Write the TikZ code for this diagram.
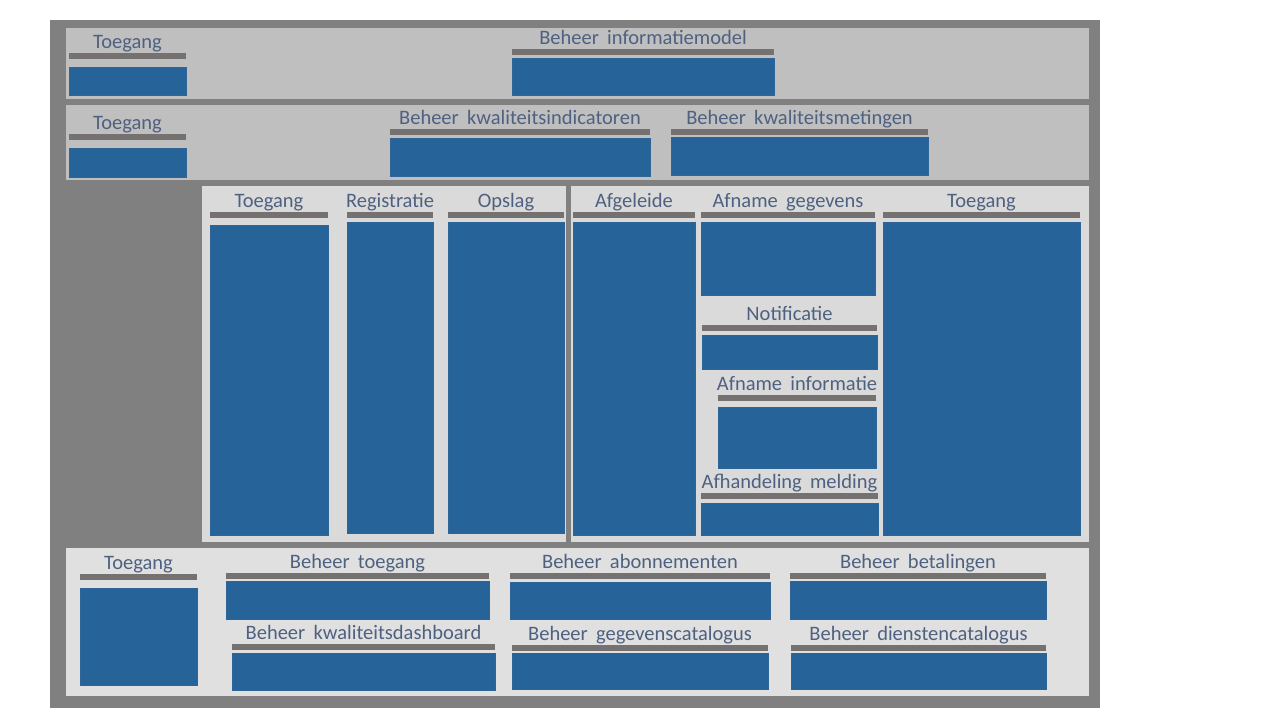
\documentclass[tikz,border=0pt]{standalone}
\usepackage{fontspec}
\setmainfont{Carlito}
\definecolor{kader}{HTML}{808080}
\definecolor{laag}{HTML}{BFBFBF}
\definecolor{paneel}{HTML}{DADADA}
\definecolor{onderlaag}{HTML}{E0E0E0}
\definecolor{balkgrijs}{HTML}{767171}
\definecolor{blokblauw}{HTML}{266399}
\definecolor{blokrand}{HTML}{2E6496}
\definecolor{kopkleur}{HTML}{4F6180}
\newcommand\kopletter{\fontsize{20.5}{24}\selectfont}

\begin{document}
\begin{tikzpicture}[x=1pt,y=-1pt,
    balk/.style={fill=balkgrijs},
    blok/.style={fill=blokblauw,draw=blokrand,line width=0.6pt},
    kop/.style={text=kopkleur,inner sep=0pt,anchor=base,font=\kopletter}]
    \useasboundingbox (0,0) rectangle (1280,720);
    % onderdeel: naam, x links, x rechts, y balk, y blok boven, y blok onder, kop
    \def\onderdeel#1#2#3#4#5#6#7{%
      \fill[balk] (#2,#4) rectangle (#3,#4+5.5);
      \draw[blok] (#2,#5) rectangle (#3,#6);
      \node[kop] (#1) at ({(#2+#3)/2},#4-5) {\spaceskip=0.4em plus 0.1em\relax #7};
    }
    % achtergrond en lagen
    \fill[kader] (50,20) rectangle (1100,708);
    \fill[laag] (66,28) rectangle (1089,99);
    \fill[laag] (66,105) rectangle (1089,180);
    \fill[paneel] (202,186) rectangle (566,542);
    \fill[paneel] (571,186) rectangle (1089,542);
    \fill[onderlaag] (66,548) rectangle (1089,696);
    % bovenste laag
    \onderdeel{toegangA}{69}{186}{53}{67}{95}{Toegang}
    \onderdeel{infomodel}{512}{774}{49}{58}{95}{Beheer informatiemodel}
    % tweede laag
    \onderdeel{toegangB}{69}{186}{134}{148}{177}{Toegang}
    \onderdeel{indicatoren}{390}{650}{129}{138}{176}{Beheer kwaliteitsindicatoren}
    \onderdeel{metingen}{671}{928}{129}{137}{175}{Beheer kwaliteitsmetingen}
    % middelste panelen
    \onderdeel{toegangC}{210}{328}{212}{225}{535}{Toegang}
    \onderdeel{registratie}{347}{433}{212}{222}{533}{Registratie}
    \onderdeel{opslag}{448}{564}{212}{222}{533}{Opslag}
    \onderdeel{afgeleide}{573}{695}{212}{222}{535}{Afgeleide}
    \onderdeel{afnamegeg}{701}{875}{212}{222}{295}{Afname gegevens}
    \onderdeel{toegangD}{883}{1080}{212}{222}{535}{Toegang}
    \onderdeel{notificatie}{702}{877}{325}{335}{369}{Notificatie}
    \onderdeel{afnameinfo}{718}{876}{395}{407}{468}{Afname informatie}
    \onderdeel{melding}{701}{878}{493}{503}{535}{Afhandeling melding}
    % onderste laag
    \onderdeel{toegangE}{80}{197}{574}{588}{685}{Toegang}
    \onderdeel{beheertoegang}{226}{489}{573}{581}{619}{Beheer toegang}
    \onderdeel{abonnementen}{510}{770}{573}{582}{619}{Beheer abonnementen}
    \onderdeel{betalingen}{790}{1046}{573}{581}{619}{Beheer betalingen}
    \onderdeel{dashboard}{232}{495}{644}{653}{690}{Beheer kwaliteitsdashboard}
    \onderdeel{gegevenscat}{512}{768}{645}{653}{689}{Beheer gegevenscatalogus}
    \onderdeel{dienstencat}{791}{1046}{645}{653}{689}{Beheer dienstencatalogus}
\end{tikzpicture}
\end{document}
